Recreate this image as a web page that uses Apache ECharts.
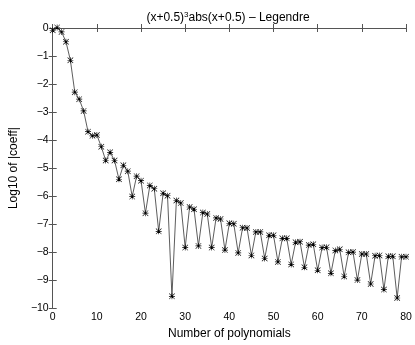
<!DOCTYPE html>
<html>
<head>
<meta charset="utf-8">
<script src="https://cdn.jsdelivr.net/npm/echarts@6/dist/echarts.min.js"></script>
<style>
  html, body { margin: 0; padding: 0; background: #fff; }
  #main { width: 415px; height: 345px; }
</style>
</head>
<body>
<div id="main"></div>
<script>
// number of polynomials 0..80
var nPoly = [];
for (var i = 0; i <= 80; i++) nPoly.push(i);
// log10 |coeff|
var logCoeff = [
  -0.08, 0.02, -0.14, -0.49, -1.15, -2.29, -2.54, -2.96, -3.70, -3.85,
  -3.82, -4.24, -4.73, -4.44, -4.73, -5.40, -4.90, -5.11, -6.02, -5.29,
  -5.45, -6.61, -5.62, -5.74, -7.26, -5.90, -5.99, -9.58, -6.16, -6.25,
  -7.84, -6.39, -6.47, -7.78, -6.59, -6.64, -7.84, -6.78, -6.82, -7.93,
  -6.97, -6.99, -8.03, -7.13, -7.14, -8.12, -7.28, -7.28, -8.23, -7.40,
  -7.40, -8.35, -7.51, -7.51, -8.44, -7.65, -7.63, -8.54, -7.75, -7.72,
  -8.65, -7.84, -7.83, -8.76, -7.94, -7.90, -8.87, -8.01, -8.00, -9.00,
  -8.07, -8.07, -9.14, -8.13, -8.12, -9.34, -8.15, -8.15, -9.64, -8.17,
  -8.17
];
var xTicks = [0, 10, 20, 30, 40, 50, 60, 70, 80];
var yTicks = [-10, -9, -8, -7, -6, -5, -4, -3, -2, -1, 0];

var pts = nPoly.map(function (n, k) { return [n, logCoeff[k]]; });

// matlab style asterisk
var star = 'path://M9 0L11 0L11 20L9 20Z M0 9L20 9L20 11L0 11Z ' +
  'M1.4 0L20 18.6L18.6 20L0 1.4Z M18.6 0L20 1.4L1.4 20L0 18.6Z';

var font = 'Liberation Sans, Arial, Helvetica, sans-serif';
var axisCol = '#555';

function frameAxis(pos, isX, show) {
  var t = isX ? xTicks : yTicks;
  return {
    type: 'value',
    position: pos,
    min: t[0],
    max: t[t.length - 1],
    interval: t[1] - t[0],
    splitLine: { show: false },
    axisLine: { show: true, lineStyle: { color: axisCol, width: 1 } },
    axisTick: { show: true, inside: true, length: 4, lineStyle: { color: axisCol } },
    axisLabel: {
      show: show,
      color: '#000',
      fontFamily: font,
      fontSize: 10.5,
      margin: isX ? 4 : 4,
      formatter: function (v) { return String(v).replace('-', '\u2212'); }
    }
  };
}

var chart = echarts.init(document.getElementById('main'));
var xb = frameAxis('bottom', true, true);
xb.name = 'Number of polynomials';
xb.nameLocation = 'middle';
xb.nameGap = 17;
xb.nameTextStyle = { color: '#000', fontFamily: font, fontSize: 12 };
var yl = frameAxis('left', false, true);
yl.name = 'Log10 of |coeff|';
yl.nameLocation = 'middle';
yl.nameGap = 28;
yl.nameTextStyle = { color: '#000', fontFamily: font, fontSize: 12 };

chart.setOption({
  animation: false,
  backgroundColor: '#fff',
  title: {
    text: '(x+0.5){s|3}abs(x+0.5) \u2013 Legendre',
    left: 223,
    textAlign: 'center',
    top: 6,
    textStyle: {
      fontFamily: font, fontSize: 12, fontWeight: 'normal', color: '#000',
      rich: { s: { fontFamily: font, fontSize: 8, verticalAlign: 'top', padding: [0, 0, 6, 0], color: '#000' } }
    }
  },
  grid: { left: 41, top: 28, right: 9, bottom: 30 },
  xAxis: [xb, frameAxis('top', true, false)],
  yAxis: [yl, frameAxis('right', false, false)],
  series: [{
    type: 'line',
    data: pts,
    symbol: star,
    symbolSize: 6,
    lineStyle: { color: '#333', width: 0.8 },
    itemStyle: { color: '#000' },
    clip: false
  }]
});
</script>
</body>
</html>
